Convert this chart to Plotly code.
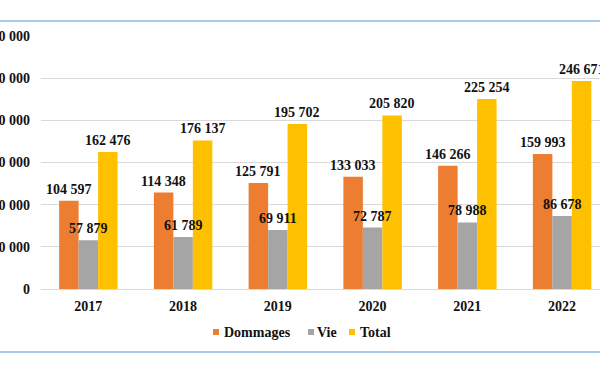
import plotly.graph_objects as go

years = ["2017", "2018", "2019", "2020", "2021", "2022"]
dommages = [104597, 114348, 125791, 133033, 146266, 159993]
vie = [57879, 61789, 69911, 72787, 78988, 86678]
total = [162476, 176137, 195702, 205820, 225254, 246671]
series_names = ["Dommages", "Vie", "Total"]
colors = ["#ED7D31", "#A5A5A5", "#FFC000"]
ytick_vals = [0, 50000, 100000, 150000, 200000, 250000, 300000]
ytick_text = ["0", "50 000", "100 000", "150 000", "200 000", "250 000", "300 000"]

FONT = "'Liberation Serif', Tinos, 'Times New Roman', serif"
FS = 14
TXT = "#111111"
W, H = 600, 372
L, R, T, B = 41, 0, 36, 83
pw = W - L - R
ph = H - T - B
BAR_PX = 19.5  # bar width in px (style)

fig = go.Figure()
all_series = [dommages, vie, total]
for name, vals, col in zip(series_names, all_series, colors):
    fig.add_trace(go.Bar(
        x=years, y=vals, name=name, marker=dict(color=col, line=dict(width=0)),
        showlegend=False, hoverinfo="skip",
    ))


def fmt(v):
    return f"{v:,}".replace(",", " ")


# value labels on top of everything (annotations anchored to data coords)
for i, vals in enumerate(all_series):
    for j, v in enumerate(vals):
        fig.add_annotation(
            x=j, y=v, xref="x", yref="y", text=fmt(v), showarrow=False,
            xanchor="center", yanchor="bottom", xshift=(i - 1) * BAR_PX, yshift=2,
            font=dict(family=FONT, size=FS, color=TXT, weight="bold"),
        )

fig.update_layout(
    template="none",
    width=W, height=H,
    margin=dict(l=L, r=R, t=T, b=B, pad=0),
    barmode="group", bargap=0.383, bargroupgap=0,
    paper_bgcolor="white", plot_bgcolor="white",
    font=dict(family=FONT, size=FS, color=TXT, weight="bold"),
    xaxis=dict(type="category", range=[-0.5, 5.40], automargin=False,
               showline=True, linecolor="#D9D9D9", linewidth=1,
               showgrid=False, ticks="", ticklabelstandoff=4,
               tickfont=dict(family=FONT, size=FS, color=TXT, weight="bold")),
    yaxis=dict(range=[0, 300000], automargin=False,
               tickvals=ytick_vals, ticktext=ytick_text,
               showgrid=True, gridcolor="#D9D9D9", gridwidth=1,
               zeroline=False, showline=False, ticks="", ticklabelstandoff=10,
               tickfont=dict(family=FONT, size=FS, color=TXT, weight="bold")),
    showlegend=False,
)


def px_x(x):
    return (x - L) / pw


def px_y(y):
    return (T + ph - y) / ph


# custom legend: small squares + names
leg_y = 332
sq_x = [213, 308, 349]
txt_x = [222, 315, 358]
for name, col, sx, tx in zip(series_names, colors, sq_x, txt_x):
    fig.add_shape(type="rect", xref="paper", yref="paper",
                  x0=px_x(sx), x1=px_x(sx + 6), y0=px_y(leg_y + 3), y1=px_y(leg_y - 3),
                  fillcolor=col, line=dict(width=0))
    fig.add_annotation(x=px_x(tx), y=px_y(leg_y), xref="paper", yref="paper",
                       text=name, showarrow=False, xanchor="left", yanchor="middle",
                       font=dict(family=FONT, size=FS, color=TXT, weight="bold"))

for ypix in [21, 352]:
    fig.add_shape(type="line", xref="paper", yref="paper",
                  x0=-L / pw, x1=1.0, y0=px_y(ypix), y1=px_y(ypix),
                  line=dict(color="#8DB6E6", width=1.5))

fig.write_html("out.html", config={"displayModeBar": False},
               post_script="document.body.style.margin='0px';document.body.style.padding='0px';")
